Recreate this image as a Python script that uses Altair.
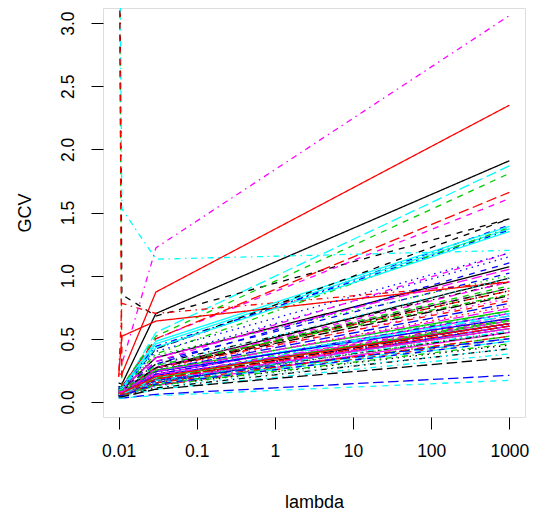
import altair as alt
import pandas as pd

# lambda grid
lambdas = [0.01, 0.011, 0.03, 1000]

# GCV values per series at each lambda (series 1..90)
g_0010 = [0.15, 5, 5, 0.12, 0.10, 0.05, 5, 0.10, 0.07, 0.03,
          0.10, 0.12, 0.06, 0.20, 0.08, 0.05, 0.03, 0.08, 0.05, 0.12,
          0.06, 0.10, 0.07, 0.30, 0.06, 0.22, 0.12, 0.10, 5, 0.07,
          0.10, 5, 0.10, 0.12, 0.05, 0.08, 0.08, 0.06, 0.10, 0.08,
          0.11, 0.09, 0.05, 0.07, 0.05, 0.07, 0.06, 0.05, 0.10, 0.08,
          0.07, 0.09, 0.05, 0.06, 0.09, 0.20, 0.08, 0.06, 0.04, 0.10,
          0.07, 0.09, 0.06, 0.07, 0.08, 0.06, 0.10, 0.07, 0.05, 0.06,
          0.10, 0.07, 0.08, 0.05, 0.07, 0.08, 0.06, 0.09, 0.06, 0.06,
          0.08, 0.05, 0.08, 0.07, 0.04, 0.07, 0.09, 0.11, 0.06, 0.08]
g_0011 = [0.14, 0.06, 0.05, 0.12, 0.10, 0.05, 0.85, 0.10, 0.07, 0.03,
          0.10, 0.12, 0.06, 0.78, 0.08, 0.05, 0.03, 0.08, 0.05, 0.12,
          0.06, 0.10, 0.07, 0.30, 0.06, 0.22, 0.12, 0.10, 1.53, 0.07,
          0.10, 0.05, 0.10, 0.12, 0.05, 0.08, 0.08, 0.06, 0.10, 0.08,
          0.11, 0.09, 0.05, 0.07, 0.05, 0.07, 0.06, 0.05, 0.10, 0.08,
          0.07, 0.09, 0.05, 0.06, 0.09, 0.52, 0.08, 0.06, 0.04, 0.10,
          0.07, 0.09, 0.06, 0.07, 0.08, 0.06, 0.10, 0.07, 0.05, 0.06,
          0.10, 0.07, 0.08, 0.05, 0.07, 0.08, 0.06, 0.09, 0.06, 0.06,
          0.08, 0.05, 0.08, 0.07, 0.04, 0.07, 0.09, 0.11, 0.06, 0.08]
g_0030 = [0.70, 0.18, 0.16, 0.42, 0.55, 0.13, 0.68, 0.26, 0.19, 0.06,
          0.46, 0.50, 0.17, 0.70, 0.27, 0.15, 0.05, 0.25, 0.11, 0.50,
          0.17, 0.32, 0.22, 1.22, 0.18, 0.87, 0.52, 0.35, 1.13, 0.19,
          0.35, 0.13, 0.37, 0.44, 0.14, 0.22, 0.27, 0.17, 0.38, 0.25,
          0.48, 0.32, 0.13, 0.19, 0.14, 0.21, 0.15, 0.16, 0.30, 0.27,
          0.19, 0.30, 0.12, 0.17, 0.27, 0.64, 0.27, 0.17, 0.10, 0.35,
          0.27, 0.27, 0.16, 0.22, 0.24, 0.17, 0.42, 0.23, 0.13, 0.17,
          0.43, 0.27, 0.27, 0.15, 0.19, 0.24, 0.19, 0.29, 0.17, 0.18,
          0.25, 0.14, 0.29, 0.21, 0.10, 0.20, 0.29, 0.40, 0.17, 0.24]
g_1000 = [1.91, 0.62, 0.55, 1.40, 1.87, 0.55, 1.45, 0.85, 0.72, 0.21,
          1.37, 1.61, 0.60, 0.95, 0.90, 0.60, 0.17, 0.82, 0.42, 1.66,
          0.58, 1.02, 0.72, 3.06, 0.62, 2.35, 1.81, 1.15, 1.20, 0.68,
          1.07, 0.50, 1.00, 1.36, 0.48, 0.70, 0.90, 0.58, 1.38, 0.78,
          1.39, 1.18, 0.45, 0.66, 0.52, 0.62, 0.50, 0.56, 0.95, 0.88,
          0.64, 1.10, 0.42, 0.60, 0.84, 0.95, 0.92, 0.62, 0.38, 1.05,
          0.98, 0.80, 0.55, 0.70, 0.68, 0.58, 1.45, 0.76, 0.46, 0.50,
          1.35, 0.95, 0.88, 0.52, 0.65, 0.66, 0.70, 0.90, 0.55, 0.60,
          0.72, 0.48, 0.98, 0.64, 0.35, 0.62, 0.85, 1.18, 0.56, 0.74]

col_names = ["black", "red", "green3", "blue", "cyan", "magenta"]
col_hex = ["#000000", "#FF0000", "#00CD00", "#0000FF", "#00FFFF", "#FF00FF"]
lty_names = ["solid", "dashed", "dotted", "dotdash", "longdash"]
lty_dash = [[1, 0], [6, 6], [1.5, 4.5], [1.5, 4.5, 6, 4.5], [10.5, 4.5]]

rows = []
cols = [g_0010, g_0011, g_0030, g_1000]
for i in range(len(g_1000)):
    for j, lam in enumerate(lambdas):
        rows.append({
            "series": i + 1,
            "lambda": lam,
            "GCV": cols[j][i],
            "col": col_names[i % 6],
            "lty": lty_names[i % 5],
        })
df = pd.DataFrame(rows)

FONT = "Liberation Sans"

chart = alt.Chart(df).mark_line(clip=True, strokeWidth=1.3).encode(
    x=alt.X("lambda:Q",
            scale=alt.Scale(type="log", domain=[10 ** -2.2, 10 ** 3.2], nice=False, zero=False),
            axis=alt.Axis(values=[0.01, 0.1, 1, 10, 100, 1000], format="~g",
                          title="lambda", grid=False, domain=False,
                          tickSize=12, tickColor="#000", labelPadding=13,
                          labelFontSize=17.5, titleFontSize=18, labelFont=FONT, titleFont=FONT,
                          labelColor="#000", titleColor="#000", titleFontWeight="normal",
                          titleBaseline="alphabetic", titleY=90, labelFlush=False)),
    y=alt.Y("GCV:Q",
            scale=alt.Scale(domain=[-0.12, 3.12], nice=False, zero=False),
            axis=alt.Axis(values=[0, 0.5, 1, 1.5, 2, 2.5, 3], format=".1f",
                          title="GCV", grid=False, domain=False,
                          tickSize=12, tickColor="#000", labelPadding=14,
                          labelAngle=270, labelAlign="center", labelBaseline="bottom",
                          labelFontSize=17.5, titleFontSize=18, labelFont=FONT, titleFont=FONT,
                          labelColor="#000", titleColor="#000", titleFontWeight="normal",
                          titleBaseline="alphabetic", titleX=-73, labelFlush=False)),
    color=alt.Color("col:N", scale=alt.Scale(domain=col_names, range=col_hex), legend=None),
    strokeDash=alt.StrokeDash("lty:N", scale=alt.Scale(domain=lty_names, range=lty_dash), legend=None),
    detail="series:N",
).properties(
    width=422,
    height=409,
    autosize=alt.AutoSizeParams(type="none"),
    padding={"left": 95, "top": 0, "right": 5, "bottom": 93},
).configure_view(
    stroke="#333", strokeWidth=1.2
).configure(background="white")

chart.save("out.html", embed_options={"renderer": "svg", "actions": False})
